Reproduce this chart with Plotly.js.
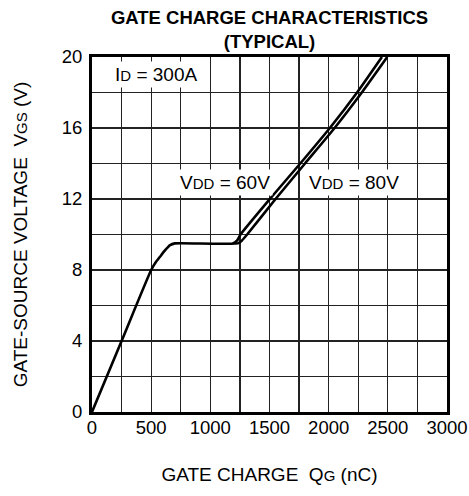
<!DOCTYPE html>
<html>
<head>
<meta charset="utf-8">
<script src="https://cdn.plot.ly/plotly-3.0.1.min.js"></script>
<style>html,body{margin:0;padding:0;background:#fff;}#chart{width:469px;height:496px;}</style>
</head>
<body>
<div id="chart"></div>
<script>
// Gate charge (nC) vs gate-source voltage (V)
const qg60 = [0, 250, 500, 540, 575, 620, 660, 700, 1190, 1225, 1255, 1503, 1760, 2010, 2240, 2450];
const vgs60 = [0, 4, 8, 8.45, 8.75, 9.13, 9.4, 9.5, 9.5, 9.65, 10, 12, 14, 16, 18, 20];
const qg80 = [1190, 1232, 1265, 1311, 1551, 1800, 2050, 2280, 2495];
const vgs80 = [9.5, 9.5, 9.65, 10, 12, 14, 16, 18, 20];
const xTickVals = [0, 250, 500, 750, 1000, 1250, 1500, 1750, 2000, 2250, 2500, 2750, 3000];
const xTickText = ['0', '', '500', '', '1000', '', '1500', '', '2000', '', '2500', '', '3000'];
const yTickVals = [0, 2, 4, 6, 8, 10, 12, 14, 16, 18, 20];
const yTickText = ['0', '', '4', '', '8', '', '12', '', '16', '', '20'];
const labelId = 'I<span style="font-size:15px">D</span> = 300A';
const label60 = 'V<span style="font-size:15px">DD</span> = 60V';
const label80 = 'V<span style="font-size:15px">DD</span> = 80V';

const FONT = 'Liberation Sans, Arial, Helvetica, sans-serif';
const traces = [
  {x: qg60, y: vgs60, mode: 'lines', name: 'VDD = 60V', line: {color: '#000', width: 2.6, shape: 'spline', smoothing: 0.5}, showlegend: false},
  {x: qg80, y: vgs80, mode: 'lines', name: 'VDD = 80V', line: {color: '#000', width: 2.6, shape: 'spline', smoothing: 0.5}, showlegend: false}
];
const layout = {
  width: 469, height: 496,
  margin: {l: 92, r: 22, t: 57, b: 84},
  paper_bgcolor: '#fff', plot_bgcolor: '#fff',
  font: {family: FONT, color: '#000', size: 18},
  title: {text: '<b>GATE CHARGE CHARACTERISTICS<br>(TYPICAL)</b>', font: {family: FONT, size: 18.5, color: '#000'}, x: 0.5, xref: 'paper', y: 0.9516, yref: 'container', yanchor: 'middle'},
  xaxis: {
    range: [0, 3000], tickvals: xTickVals, ticktext: xTickText,
    showgrid: true, gridcolor: '#222', gridwidth: 1.3,
    showline: true, linecolor: '#000', linewidth: 3, mirror: true,
    ticks: '', zeroline: false, tickfont: {size: 18.5}, ticklabelstandoff: -3,
    title: {text: 'GATE CHARGE  Q<span style="font-size:15px">G</span> (nC)', font: {size: 19}, standoff: 31}
  },
  yaxis: {
    range: [0, 20], tickvals: yTickVals, ticktext: yTickText,
    showgrid: true, gridcolor: '#222', gridwidth: 1.3,
    showline: true, linecolor: '#000', linewidth: 3, mirror: true,
    ticks: '', zeroline: false, tickfont: {size: 18.5}, ticklabelstandoff: 3,
    title: {text: 'GATE-SOURCE VOLTAGE  V<span style="font-size:15px">GS</span> (V)', font: {size: 19}, standoff: 30}
  },
  annotations: [
    {x: 170, y: 19.0, xref: 'x', yref: 'y', text: labelId, showarrow: false, xanchor: 'left', yanchor: 'middle', bgcolor: '#fff', borderpad: 2, font: {size: 19}},
    {x: 715, y: 12.92, xref: 'x', yref: 'y', text: label60, showarrow: false, xanchor: 'left', yanchor: 'middle', bgcolor: '#fff', borderpad: 2, font: {size: 19}},
    {x: 1805, y: 12.92, xref: 'x', yref: 'y', text: label80, showarrow: false, xanchor: 'left', yanchor: 'middle', bgcolor: '#fff', borderpad: 2, font: {size: 19}}
  ]
};
Plotly.newPlot('chart', traces, layout, {displayModeBar: false, staticPlot: true});
</script>
</body>
</html>
